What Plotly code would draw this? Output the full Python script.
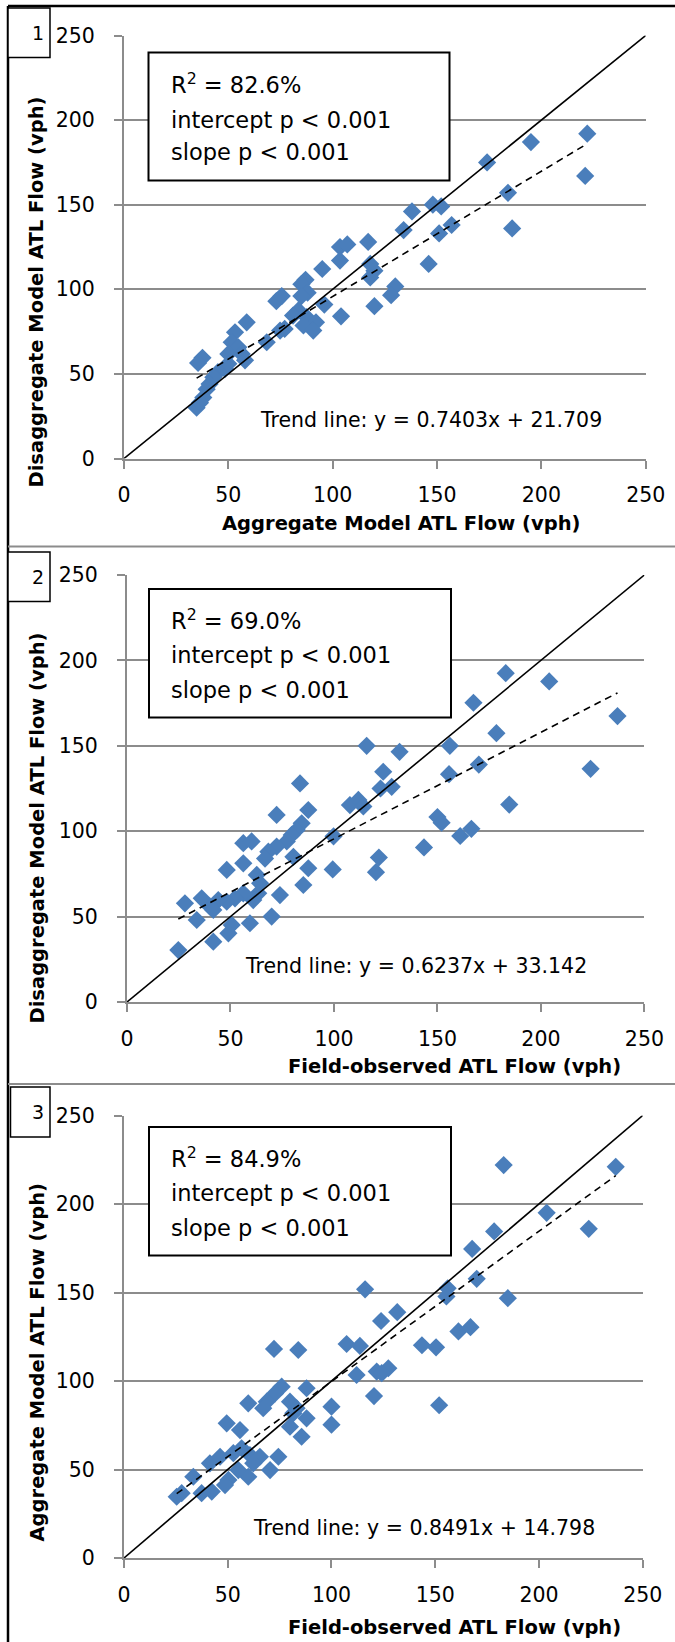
import plotly.graph_objects as go

# ---------------- data ----------------
p1_x = [222, 221, 195, 174, 184, 186, 138, 148, 152, 157, 151, 134, 146, 117, 103.5, 107, 103.5, 118, 118, 120,
        95, 130, 128, 120, 104, 96, 87, 85, 88, 85, 73, 75.6, 83.6, 87.5, 92, 86, 90.7, 81, 77, 74.8,
        68.4, 58.8, 53.2, 51.6, 54.8, 56.4, 58, 50, 37.6, 35.5, 45, 48.4, 50, 42.8, 41, 39.6, 38, 34.8, 36.4]
p1_y = [192, 167, 187, 175, 157, 136, 146, 150, 149, 138, 133, 135, 115, 128, 125, 126.5, 117, 115, 107, 111,
        112, 101.7, 96.5, 90, 84, 91, 105.6, 103, 98, 96, 93, 96, 87.5, 83.5, 80.5, 78.6, 75.6, 84.5, 76.6, 75.6,
        68.7, 80.5, 74.6, 68.7, 65.7, 61.8, 58, 61.8, 59.5, 56.5, 51, 53, 56, 48, 44, 41, 36, 30, 33]

p2_x = [183, 204, 167.4, 178.5, 237, 224, 184.7, 170, 156, 155.6, 115.8, 131.7, 123.8, 127.9, 122.5, 150, 152,
        161, 166.4, 143.5, 121.7, 120.3, 99.8, 99.4, 107.7, 111.8, 114.2,
        83.6, 87.6, 72.3, 84.4, 82, 79.6, 77.2, 72.3, 68.3, 66.7, 80.4, 56.2, 60.2, 48.2, 56.2, 87.6, 85.2,
        62.7, 64.3, 73.9, 63.4, 61, 56.2, 52.2, 48.2, 44.1, 40.1, 36.1, 28, 33.7, 41.7, 50.6, 49, 59.4, 69.9,
        41.7, 24.8]
p2_y = [192.5, 187.7, 175.2, 157.4, 167.4, 136.5, 115.6, 139, 150, 133.4, 150, 146.5, 134.8, 126, 125, 108.3, 105,
        97.2, 101.4, 90.5, 84.6, 76, 97, 77.6, 115.3, 118.3, 114.5,
        128, 112.4, 109.5, 104.6, 100.7, 97.8, 94, 91, 88, 84, 85, 93, 94, 77.3, 81.2, 78.3, 68.5,
        74.4, 69.5, 62.6, 63.6, 59.7, 63.6, 60.7, 58.7, 59.7, 55.8, 60.7, 57.8, 48, 53.9, 45.1, 40.2, 46.1, 50,
        35.3, 30.4]

p3_x = [183, 237, 203.7, 224, 178.4, 167.8, 170, 156, 155.4, 185, 116.2, 131.7, 123.9, 161.2, 167, 143.6, 150.4,
        151.9, 120.5, 100, 100, 107.3, 113.7, 112.1, 121.8, 127.4, 124.2,
        72.3, 84, 88, 76, 72.8, 68.8, 67.1, 59.9, 80, 83.2, 88, 80, 85.6, 81.6, 49.5, 55.9, 46.3, 41.4, 52.7,
        56.7, 60.7, 65.5, 74.4, 70.4, 62.3, 59.9, 55.1, 50.3, 48.7, 42.3, 37.4, 33.4, 25.4, 27.8]
p3_y = [222, 221, 195, 186, 184.5, 174.6, 157.7, 152.4, 147.8, 146.8, 151.8, 138.9, 133.9, 128, 130.4, 120.2, 119,
        86.3, 91.5, 85.5, 75.3, 120.9, 119.8, 103.4, 105.3, 107.2, 104.4,
        118.1, 117.5, 95.9, 96.8, 93, 88.3, 84.6, 87.4, 88.3, 84.6, 78.9, 74.2, 68.5, 81.8, 76.1, 72.3, 57.2, 53.5, 59.2,
        62, 58.2, 57.2, 57.2, 49.7, 53.5, 45.9, 49.7, 44.1, 41.2, 37.5, 36.6, 45.9, 34.6, 36.6]

slopes = [0.7403, 0.6237, 0.8491]
intercepts = [21.709, 33.142, 14.798]
r2_labels = ["82.6%", "69.0%", "84.9%"]
x_titles = ["Aggregate Model ATL Flow (vph)", "Field-observed ATL Flow (vph)", "Field-observed ATL Flow (vph)"]
y_titles = ["Disaggregate Model ATL Flow (vph)", "Disaggregate Model ATL Flow (vph)", "Aggregate Model ATL Flow (vph)"]
panel_ids = ["1", "2", "3"]
tick_vals = [0, 50, 100, 150, 200, 250]
diag = [0, 250]

W, H = 675, 1642
FONT = "DejaVu Sans"
BLUE = "#4A7EBB"
GRID = "#8C8C8C"

def px(x):
    return x / W

def py(y):
    return 1 - y / H

# panel geometry in pixels (left, right, top, bottom)
geo = [(124, 645.7, 35.5, 458.5), (127, 644.4, 575, 1002), (124, 642.7, 1115.5, 1558)]

fig = go.Figure()
data = [(p1_x, p1_y), (p2_x, p2_y), (p3_x, p3_y)]

for i, (xs, ys) in enumerate(data):
    xa = "x" if i == 0 else f"x{i+1}"
    ya = "y" if i == 0 else f"y{i+1}"
    fig.add_trace(go.Scatter(x=xs, y=ys, mode="markers", xaxis=xa, yaxis=ya,
                             marker=dict(symbol="diamond", size=14, color=BLUE, line=dict(width=0)),
                             showlegend=False, cliponaxis=False))
    fig.add_trace(go.Scatter(x=diag, y=diag, mode="lines", xaxis=xa, yaxis=ya,
                             line=dict(color="black", width=1.6), showlegend=False))
    tx = [min(xs), max(xs)]
    ty = [slopes[i] * v + intercepts[i] for v in tx]
    fig.add_trace(go.Scatter(x=tx, y=ty, mode="lines", xaxis=xa, yaxis=ya,
                             line=dict(color="black", width=1.6, dash="7px,5px"), showlegend=False))

layout = dict(width=W, height=H, autosize=False,
              margin=dict(l=0, r=0, t=0, b=0, pad=0, autoexpand=False),
              paper_bgcolor="white", plot_bgcolor="white",
              font=dict(family=FONT, color="black"))
for i, (l, r, t, b) in enumerate(geo):
    xk = "xaxis" if i == 0 else f"xaxis{i+1}"
    yk = "yaxis" if i == 0 else f"yaxis{i+1}"
    ya = "y" if i == 0 else f"y{i+1}"
    xa = "x" if i == 0 else f"x{i+1}"
    layout[xk] = dict(domain=[px(l), px(r)], range=[0, 250], anchor=ya, tickvals=tick_vals,
                      automargin=False,
                      showgrid=False, zeroline=False, showline=True, linecolor=GRID, linewidth=2,
                      ticks="outside", ticklen=8, tickwidth=2, tickcolor=GRID, ticklabelstandoff=9,
                      tickfont=dict(size=20.5, family=FONT, color="black"), fixedrange=True)
    layout[yk] = dict(domain=[py(b), py(t)], range=[0, 250], anchor=xa, tickvals=tick_vals,
                      automargin=False,
                      showgrid=True, gridcolor=GRID, gridwidth=2, zeroline=False,
                      showline=True, linecolor=GRID, linewidth=2,
                      ticks="outside", ticklen=8, tickwidth=2, tickcolor=GRID, ticklabelstandoff=15,
                      tickfont=dict(size=20.5, family=FONT, color="black"), fixedrange=True)
fig.update_layout(**layout)

shapes = []
annotations = []
# outer frame and separators
shapes.append(dict(type="line", xref="paper", yref="paper", x0=px(8), x1=px(8), y0=py(6), y1=py(H),
                   line=dict(color="black", width=2.5)))
shapes.append(dict(type="line", xref="paper", yref="paper", x0=px(8), x1=1, y0=py(6), y1=py(6),
                   line=dict(color="black", width=2.5)))
for sy in [546.5, 1084]:
    shapes.append(dict(type="line", xref="paper", yref="paper", x0=px(8), x1=1, y0=py(sy), y1=py(sy),
                       line=dict(color=GRID, width=2)))

id_boxes = [(8, 50, 8, 57.5), (8, 50, 552, 601.5), (10.5, 50, 1087, 1137)]
stat_boxes = [(148.5, 449.5, 52.5, 180.5), (149, 451, 589, 717.5), (149, 451, 1127, 1255.5)]
stat_lines_y = [(83, 119.5, 152.5), (619, 655, 690), (1157, 1193, 1228)]
trend_pos = [(258, 420), (243, 965.5), (251, 1528)]
xtitle_pos = [(401, 523.5), (454, 1066), (454, 1627)]
ytitle_pos = [(36.5, 292), (36.5, 828), (36.5, 1363)]

for i in range(3):
    l, r, t, b = id_boxes[i]
    shapes.append(dict(type="rect", xref="paper", yref="paper", x0=px(l), x1=px(r), y0=py(b), y1=py(t),
                       line=dict(color="black", width=1.5), fillcolor="white", layer="above"))
    annotations.append(dict(xref="paper", yref="paper", x=px(r - 4), y=py((t + b) / 2), text=panel_ids[i],
                            showarrow=False, xanchor="right", yanchor="middle",
                            font=dict(size=19, family=FONT, color="black")))
    l, r, t, b = stat_boxes[i]
    shapes.append(dict(type="rect", xref="paper", yref="paper", x0=px(l), x1=px(r), y0=py(b), y1=py(t),
                       line=dict(color="black", width=2), fillcolor="white", layer="above"))
    texts = [f"R<sup>2</sup> = {r2_labels[i]}", "intercept p < 0.001", "slope p < 0.001"]
    for k, tline in enumerate(texts):
        annotations.append(dict(xref="paper", yref="paper", x=px(l + 20), y=py(stat_lines_y[i][k]),
                                text=tline, showarrow=False, xanchor="left", yanchor="middle",
                                font=dict(size=22.5, family=FONT, color="black")))
    tx, ty = trend_pos[i]
    annotations.append(dict(xref="paper", yref="paper", x=px(tx), y=py(ty),
                            text=f"Trend line: y = {slopes[i]}x + {intercepts[i]}",
                            showarrow=False, xanchor="left", yanchor="middle",
                            font=dict(size=20.5, family=FONT, color="black")))
    ax, ay = xtitle_pos[i]
    annotations.append(dict(xref="paper", yref="paper", x=px(ax), y=py(ay), text=f"<b>{x_titles[i]}</b>",
                            showarrow=False, xanchor="center", yanchor="middle",
                            font=dict(size=19.5, family=FONT, color="black")))
    bx, by = ytitle_pos[i]
    annotations.append(dict(xref="paper", yref="paper", x=px(bx), y=py(by), text=f"<b>{y_titles[i]}</b>",
                            showarrow=False, xanchor="center", yanchor="middle", textangle=-90,
                            font=dict(size=19.5, family=FONT, color="black")))

fig.update_layout(shapes=shapes, annotations=annotations)
fig.write_html("out.html")
